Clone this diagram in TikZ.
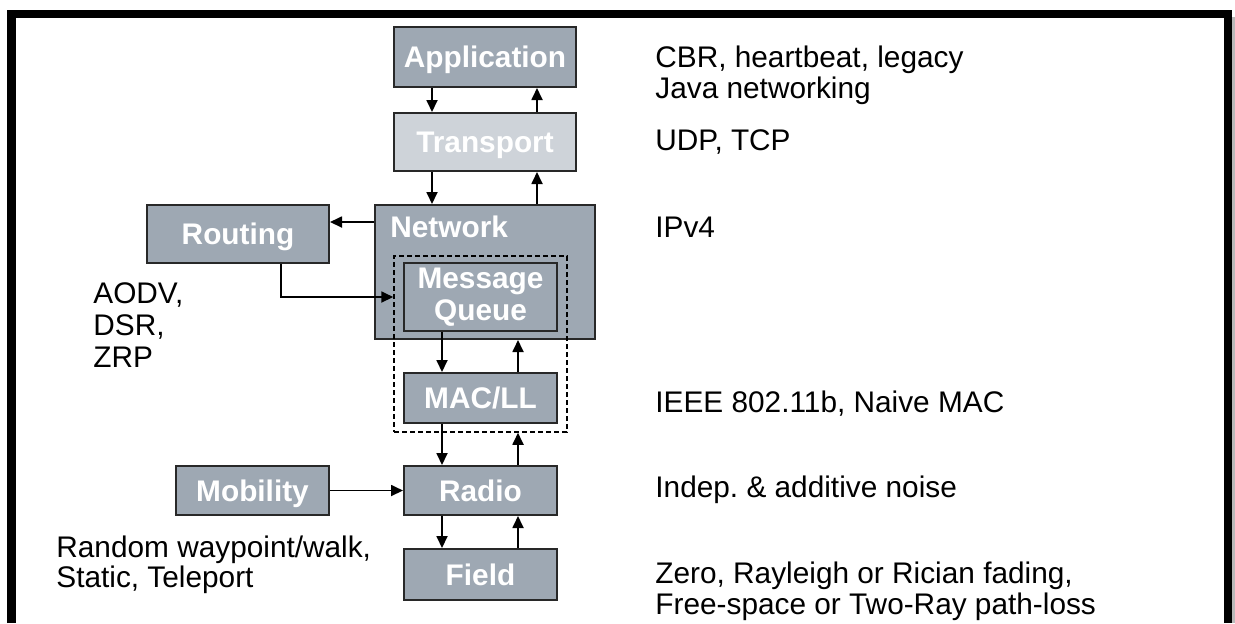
\documentclass[tikz,border=0pt]{standalone}
\usepackage{fontspec}
\setmainfont{Liberation Sans}
\usetikzlibrary{arrows.meta}
\definecolor{layerfill}{RGB}{158,168,179}
\definecolor{lightfill}{RGB}{206,211,217}
\definecolor{edge}{RGB}{40,40,40}
\frenchspacing
\begin{document}
\begin{tikzpicture}[x=0.5pt,y=-0.5pt,
  layer/.style={draw=edge, line width=1pt, fill=layerfill, text=white,
    font=\fontsize{14.9}{16}\selectfont\bfseries, inner sep=0pt},
  caps/.style={text height=10.6pt, text depth=0pt},
  arr/.style={line width=0.9pt, -{Triangle[length=6pt,width=5.5pt]}},
  note/.style={font=\fontsize{14.9}{16}\selectfont, anchor=base west, inner sep=0pt}
]
\useasboundingbox (0,0) rectangle (1235,623);
% outer frame with its shadow on the right
\fill[gray!55] (1232,17) rectangle (1235,623);
\draw[line width=4.25pt] (11.5,623) -- (11.5,14) -- (1228,14) -- (1228,623);

% protocol stack
\node[layer,caps,minimum width=91pt,minimum height=30pt] (app) at (485,57) {Application};
\node[layer,caps,fill=lightfill,minimum width=91pt,minimum height=29pt] (trans) at (485,142) {Transport};
\node[layer,minimum width=110pt,minimum height=67pt] (net) at (485,272) {};
\node[text=white, font=\fontsize{14.9}{16}\selectfont\bfseries, anchor=base west, inner sep=0pt] (netlbl) at (390,237) {Network};
\node[layer,caps,minimum width=91pt,minimum height=29pt] (rout) at (238,234) {Routing};
\node[draw, line width=0.75pt, dash pattern=on 2.5pt off 1.5pt, minimum width=86.5pt, minimum height=88pt, inner sep=0pt] (zone) at (480.5,344) {};
\node[layer,align=center,minimum width=76.5pt,minimum height=34pt] (mq) at (480.5,297) {Message\\Queue};
\node[layer,caps,minimum width=76.5pt,minimum height=25pt] (mac) at (480.5,398) {MAC/LL};
\node[layer,caps,minimum width=76.5pt,minimum height=24.5pt] (radio) at (480.5,490.5) {Radio};
\node[layer,caps,minimum width=76.5pt,minimum height=25.5pt] (field) at (480.5,574.5) {Field};
\node[layer,caps,minimum width=76.5pt,minimum height=24.5pt] (mob) at (252.5,490.5) {Mobility};

% connectors
\draw[arr] ([xshift=-26.5pt]app.south) -- ([xshift=-26.5pt]trans.north);
\draw[arr] ([xshift=26pt]trans.north) -- ([xshift=26pt]app.south);
\draw[arr] ([xshift=-26.5pt]trans.south) -- ([xshift=-26.5pt]net.north);
\draw[arr] ([xshift=26pt]net.north) -- ([xshift=26pt]trans.south);
\draw[arr] ([yshift=25pt]net.west) -- ([yshift=6pt]rout.east);
\draw[arr] ([xshift=21.5pt]rout.south) |- ([yshift=23.5pt]zone.west);
\draw[arr] ([xshift=-19.25pt]mq.south) -- ([xshift=-19.25pt]mac.north);
\coordinate (macup) at ([xshift=18.75pt]mac.north);
\draw[arr] (macup) -- (macup |- net.south);
\draw[arr] ([xshift=-19.25pt]mac.south) -- ([xshift=-19.25pt]radio.north);
\coordinate (radioup) at ([xshift=18.75pt]radio.north);
\draw[arr] (radioup) -- (radioup |- zone.south);
\draw[arr] (mob) -- (radio);
\draw[arr] ([xshift=-19.25pt]radio.south) -- ([xshift=-19.25pt]field.north);
\draw[arr] ([xshift=18.75pt]field.north) -- ([xshift=18.75pt]radio.south);

% annotations
\node[note] (n1a) at (655,67) {CBR, heartbeat, legacy};
\node[note] (n1b) at (655,98) {Java networking};
\node[note] (n2) at (655,150) {UDP, TCP};
\node[note] (n3) at (655,237) {IPv4};
\node[note] (n4) at (655,412) {IEEE 802.11b, Naive MAC};
\node[note] (n5) at (655,497) {Indep. \& additive noise};
\node[note] (n6a) at (655,583) {Zero, Rayleigh or Rician fading,};
\node[note] (n6b) at (655,614) {Free-space or Two-Ray path-loss};
\node[note] (r1) at (93,303) {AODV,};
\node[note] (r2) at (93,335) {DSR,};
\node[note] (r3) at (93,367) {ZRP};
\node[note] (m1) at (56,557) {Random waypoint/walk,};
\node[note] (m2) at (56,587) {Static, Teleport};
\end{tikzpicture}
\end{document}
